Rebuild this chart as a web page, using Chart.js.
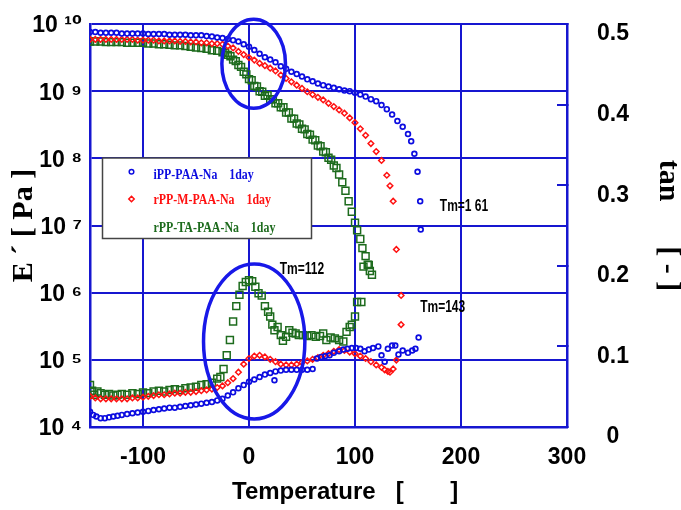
<!DOCTYPE html>
<html><head><meta charset="utf-8">
<script src="https://cdn.jsdelivr.net/npm/chart.js@4.4.0/dist/chart.umd.min.js"></script>
<style>html,body{margin:0;padding:0;background:#fff;}canvas{display:block;}</style>
</head><body>
<canvas id="c" width="681" height="510"></canvas>
<script>
// ---------- data ----------
const seriesLabels = ['iPP-PAA-Na    1day', 'rPP-M-PAA-Na    1day', 'rPP-TA-PAA-Na    1day'];
const xTicks = [-100, 0, 100, 200, 300];
const eTicks = [1e4, 1e5, 1e6, 1e7, 1e8, 1e9, 1e10];
const tanTicks = [0, 0.1, 0.2, 0.3, 0.4, 0.5];

// storage modulus E' [Pa]
const iPP_E_T = [-150,-145,-140,-135,-130,-125,-120,-115,-110,-105,-100,-95,-90,-85,-80,-75,-70,-65,-60,-55,-50,-45,-40,-35,-30,-25,-20,-15,-10,-5,0,5,10,15,20,25,30,35,40,45,50,55,60,65,70,75,80,85,90,95,100,105,110,115,120,125,130,135,140,145,150,153,156,159,161.5,162];
const iPP_E = [7.6e9,7.6e9,7.4e9,7.4e9,7.4e9,7.4e9,7.2e9,7.2e9,7.2e9,7.2e9,7.2e9,7.1e9,7.1e9,7.1e9,7.1e9,6.9e9,6.9e9,6.9e9,6.9e9,6.8e9,6.8e9,6.8e9,6.6e9,6.5e9,6.3e9,6.2e9,6.0e9,5.75e9,5.5e9,5.0e9,4.6e9,4.1e9,3.6e9,3.2e9,2.95e9,2.7e9,2.35e9,2.15e9,1.95e9,1.8e9,1.65e9,1.5e9,1.4e9,1.3e9,1.23e9,1.17e9,1.12e9,1.07e9,1.02e9,1.0e9,9.5e8,8.9e8,8.3e8,7.6e8,7.1e8,6.2e8,5.4e8,4.5e8,3.6e8,2.95e8,2.3e8,1.8e8,1.17e8,6.3e7,2.3e7,8.7e6];

const rPPM_E_T = [-150,-145,-140,-135,-130,-125,-120,-115,-110,-105,-100,-95,-90,-85,-80,-75,-70,-65,-60,-55,-50,-45,-40,-35,-30,-25,-20,-15,-10,-5,0,5,10,15,20,25,30,35,40,45,50,55,60,65,70,75,80,85,90,95,100,105,110,115,120,125,130,133,136,139,143.5];
const rPPM_E = [5.9e9,5.9e9,5.9e9,5.9e9,5.9e9,5.9e9,5.9e9,5.9e9,5.9e9,5.75e9,5.75e9,5.75e9,5.75e9,5.6e9,5.6e9,5.6e9,5.6e9,5.5e9,5.5e9,5.4e9,5.4e9,5.25e9,5.25e9,5.1e9,5.1e9,5.0e9,4.7e9,4.4e9,3.9e9,3.5e9,3.16e9,2.9e9,2.6e9,2.4e9,2.2e9,2.0e9,1.74e9,1.55e9,1.38e9,1.23e9,1.1e9,9.8e8,8.9e8,8.1e8,7.4e8,6.6e8,5.9e8,5.25e8,4.7e8,4.0e8,3.4e8,2.75e8,2.2e8,1.66e8,1.26e8,9.3e7,5.6e7,3.9e7,2.3e7,4.4e6,9.1e5];

const rPPTA_E_T = [-150,-145,-140,-135,-130,-125,-120,-115,-110,-105,-100,-95,-90,-85,-80,-75,-70,-65,-60,-55,-50,-45,-40,-35,-30,-25,-20,-15,-10,-5,0,5,10,15,20,25,30,35,40,45,50,55,60,65,70,75,80,85,88,91,94,97,100,102,105,107,110,112,114];
const rPPTA_E = [5.5e9,5.5e9,5.5e9,5.37e9,5.37e9,5.37e9,5.37e9,5.25e9,5.25e9,5.25e9,5.25e9,5.13e9,5.13e9,5.0e9,5.0e9,4.9e9,4.8e9,4.8e9,4.7e9,4.57e9,4.47e9,4.37e9,4.27e9,4.07e9,3.98e9,3.8e9,3.47e9,2.95e9,2.45e9,1.95e9,1.51e9,1.2e9,1.0e9,8.5e8,7.6e8,6.6e8,5.75e8,4.8e8,3.9e8,3.3e8,2.75e8,2.3e8,1.9e8,1.55e8,1.26e8,1.02e8,7.8e7,5.75e7,4.4e7,3.3e7,2.3e7,1.6e7,1.1e7,8.5e6,6.3e6,4.6e6,3.5e6,2.6e6,2.1e6];
// second (upper) track of rPP-TA squares in the drop region
const rPPTA_E2_T = [-22.5,-17.5,-12.5,-7.5,-2.5,2.5,7.5,12.5,17.5,22.5,27.5,32.5,37.5,42.5,47.5,52.5,57.5,62.5,67.5,72.5,77.5,82.5];
const rPPTA_E2 = [3.7e9,3.3e9,2.8e9,2.3e9,1.78e9,1.45e9,1.17e9,9.8e8,8.7e8,7.6e8,6.6e8,5.75e8,4.8e8,3.9e8,3.2e8,2.7e8,2.24e8,1.86e8,1.51e8,1.23e8,9.5e7,7.2e7];

// loss tangent tan delta [-]
const iPP_tan_T = [-150,-147,-144,-140,-136,-132,-128,-124,-120,-115,-110,-105,-100,-95,-90,-85,-80,-75,-70,-65,-60,-55,-50,-45,-40,-35,-30,-25,-20,-15,-10,-5,0,5,10,15,20,24,25,30,35,40,45,50,55,60,64,68,72,76,80,85,89,93,97,101,105,109,113,117,122,125,128,131,135,138,141,145,150,154,157,160];
const iPP_tan = [0.019,0.015,0.013,0.011,0.011,0.012,0.013,0.014,0.015,0.016,0.017,0.018,0.019,0.020,0.021,0.022,0.023,0.024,0.024,0.025,0.026,0.027,0.028,0.029,0.030,0.031,0.033,0.035,0.039,0.043,0.048,0.052,0.056,0.059,0.062,0.065,0.067,0.058,0.069,0.070,0.071,0.071,0.071,0.071,0.071,0.072,0.085,0.087,0.088,0.089,0.092,0.094,0.096,0.097,0.098,0.098,0.097,0.094,0.096,0.098,0.100,0.089,0.081,0.097,0.101,0.101,0.090,0.095,0.092,0.095,0.097,0.111];

const rPPM_tan_T = [-150,-145,-140,-135,-130,-125,-120,-115,-110,-105,-100,-95,-90,-85,-80,-75,-70,-65,-60,-55,-50,-45,-40,-35,-30,-25,-20,-15,-10,-5,0,5,10,15,20,25,30,35,40,45,50,55,60,65,70,75,80,85,90,95,100,105,110,115,120,125,128,131,133,136,139,143.5];
const rPPM_tan = [0.038,0.036,0.035,0.035,0.035,0.035,0.035,0.035,0.036,0.036,0.037,0.038,0.039,0.040,0.040,0.041,0.042,0.042,0.043,0.043,0.044,0.045,0.046,0.047,0.049,0.051,0.055,0.060,0.068,0.078,0.085,0.088,0.089,0.087,0.084,0.081,0.078,0.077,0.077,0.078,0.080,0.082,0.084,0.086,0.089,0.091,0.094,0.096,0.095,0.093,0.091,0.088,0.085,0.081,0.077,0.074,0.071,0.069,0.068,0.072,0.083,0.127];

const rPPTA_tan_T = [-150,-148,-146,-143,-140,-136,-132,-128,-124,-120,-115,-110,-105,-100,-95,-90,-85,-80,-75,-70,-65,-60,-55,-50,-45,-40,-35,-30,-27,-24,-21,-18,-15,-12,-9,-6,-3,0,3,6,9,12,15,18,20,22,24,27,30,32,35,38,41,44,47,51,55,59,63,67,70,73,77,81,85,89,92,95,97,100,102,106,108,113,116];
const rPPTA_tan = [0.052,0.045,0.040,0.044,0.042,0.040,0.041,0.039,0.040,0.041,0.040,0.042,0.041,0.043,0.042,0.044,0.045,0.044,0.046,0.047,0.046,0.048,0.049,0.050,0.052,0.053,0.055,0.060,0.062,0.072,0.089,0.108,0.131,0.150,0.164,0.175,0.180,0.182,0.181,0.174,0.166,0.163,0.150,0.143,0.137,0.127,0.120,0.124,0.114,0.107,0.112,0.120,0.117,0.116,0.114,0.114,0.113,0.114,0.112,0.113,0.116,0.108,0.111,0.110,0.108,0.106,0.118,0.124,0.127,0.137,0.155,0.155,0.199,0.201,0.189];

// annotations (data coordinates: x = temperature, t = tan delta axis)
const annoTexts = [
  {text: 'Tm=1 61', x: 180, t: 0.273},
  {text: 'Tm=112', x: 29, t: 0.195},
  {text: 'Tm=143', x: 161.5, t: 0.1485}
];
const ellipses = [
  {x: 4.4, t: 0.4507, rx: 30.0, rt: 0.0552},
  {x: 4.9, t: 0.1061, rx: 47.8, rt: 0.0962}
];

// ---------- styling ----------
const BLUE = '#0c0ce0', RED = '#ff1010', GREEN = '#1d6b1d', GRID = '#1616d0', ELL = '#1818e8';
const SANS = '"Liberation Sans", Arial, "DejaVu Sans", sans-serif';
const SERIF = '"Liberation Serif", "Times New Roman", serif';
const SUP = {'0':'⁰','1':'¹','2':'²','3':'³','4':'⁴','5':'⁵','6':'⁶','7':'⁷','8':'⁸','9':'⁹'};
const sup = n => String(n).split('').map(c => SUP[c]).join('');
const pts = (xs, ys) => xs.map((v, i) => ({x: v, y: ys[i]}));
const noPad = s => { s.paddingTop = 0; s.paddingBottom = 0; s.paddingLeft = 0; s.paddingRight = 0; };

const styles = [
  {pointStyle: 'circle', pointRadius: 2.4, pointBorderWidth: 1.7, color: BLUE},
  {pointStyle: 'rectRot', pointRadius: 2.8, pointBorderWidth: 1.5, color: RED},
  {pointStyle: 'rect', pointRadius: 4.9, pointBorderWidth: 1.5, color: GREEN}
];
function ds(i, data, axis) {
  const s = styles[i];
  return {label: seriesLabels[i], data: data, yAxisID: axis, showLine: false,
    pointStyle: s.pointStyle, pointRadius: s.pointRadius, pointBorderWidth: s.pointBorderWidth,
    pointBorderColor: s.color, pointBackgroundColor: 'rgba(0,0,0,0)', borderColor: s.color};
}

const overlay = {
  id: 'overlay',
  afterDatasetsDraw(chart) {
    const {ctx, chartArea, scales: {x, yT}} = chart;
    ctx.save();
    // ellipses
    ctx.strokeStyle = ELL; ctx.lineWidth = 3.5;
    ellipses.forEach(e => {
      const cx = x.getPixelForValue(e.x), cy = yT.getPixelForValue(e.t);
      const rx = x.getPixelForValue(e.x + e.rx) - cx;
      const ry = cy - yT.getPixelForValue(e.t + e.rt);
      ctx.beginPath(); ctx.ellipse(cx, cy, rx, ry, 0, 0, Math.PI * 2); ctx.stroke();
    });
    // annotation texts
    ctx.fillStyle = '#000'; ctx.font = 'bold 16px ' + SANS; ctx.textBaseline = 'middle'; ctx.textAlign = 'left';
    annoTexts.forEach(a => {
      ctx.save();
      ctx.translate(x.getPixelForValue(a.x), yT.getPixelForValue(a.t));
      ctx.scale(0.75, 1);
      ctx.fillText(a.text, 0, 0);
      ctx.restore();
    });
    // legend box
    const bl = chartArea.left + 12.5, bt = chartArea.top + 134, bw = 209, bh = 80.5;
    ctx.fillStyle = '#fff'; ctx.fillRect(bl, bt, bw, bh);
    ctx.strokeStyle = '#444'; ctx.lineWidth = 1.5; ctx.strokeRect(bl, bt, bw, bh);
    const rows = [{my: 13.7, ty: 17}, {my: 41, ty: 42}, {my: null, ty: 70}];
    chart.data.datasets.slice(0, 3).forEach((d, i) => {
      const s = styles[i], r = rows[i];
      if (r.my !== null) {
        const mx = bl + 29, my = bt + r.my;
        ctx.strokeStyle = s.color; ctx.lineWidth = 1.5;
        ctx.beginPath();
        if (s.pointStyle === 'circle') ctx.arc(mx, my, 2.3, 0, Math.PI * 2);
        else { const q = 2.7; ctx.moveTo(mx, my - q); ctx.lineTo(mx + q, my); ctx.lineTo(mx, my + q); ctx.lineTo(mx - q, my); ctx.closePath(); }
        ctx.stroke();
      }
      ctx.save();
      ctx.fillStyle = s.color; ctx.font = 'bold 14px ' + SERIF; ctx.textBaseline = 'middle';
      ctx.translate(bl + 51, bt + r.ty); ctx.scale(0.85, 1);
      ctx.fillText(d.label, 0, 0);
      ctx.restore();
    });
    ctx.restore();
  }
};

new Chart(document.getElementById('c'), {
  type: 'scatter',
  data: {
    datasets: [
      ds(0, pts(iPP_E_T, iPP_E), 'yE'),
      ds(1, pts(rPPM_E_T, rPPM_E), 'yE'),
      ds(2, pts(rPPTA_E_T, rPPTA_E).concat(pts(rPPTA_E2_T, rPPTA_E2)), 'yE'),
      ds(0, pts(iPP_tan_T, iPP_tan), 'yT'),
      ds(1, pts(rPPM_tan_T, rPPM_tan), 'yT'),
      ds(2, pts(rPPTA_tan_T, rPPTA_tan), 'yT')
    ]
  },
  options: {
    responsive: false, animation: false, devicePixelRatio: 1,
    layout: {padding: {top: 24, left: 0, right: 0, bottom: 0}},
    plugins: {legend: {display: false}, tooltip: {enabled: false}},
    scales: {
      x: {
        type: 'linear', position: 'bottom', min: -150, max: 300,
        afterBuildTicks: s => { s.ticks = xTicks.map(v => ({value: v})); },
        afterFit: s => { s.height = 83; noPad(s); },
        grid: {color: GRID, lineWidth: 2, drawTicks: false},
        border: {color: GRID, width: 2.5},
        ticks: {color: '#000', font: {family: SANS, weight: 'bold', size: 23}, padding: 17, maxRotation: 0, autoSkip: false},
        title: {display: true, text: '     Temperature   [       ]', color: '#000', font: {family: SANS, weight: 'bold', size: 24}, padding: {top: 0, bottom: 3}}
      },
      yE: {
        type: 'logarithmic', position: 'left', min: 1e4, max: 1e10,
        afterBuildTicks: s => { s.ticks = eTicks.map(v => ({value: v})); },
        afterFit: s => { s.width = 90; noPad(s); },
        grid: {color: GRID, lineWidth: 2, drawTicks: false},
        border: {color: GRID, width: 2.5},
        ticks: {callback: v => '10 ' + sup(Math.round(Math.log10(v))), color: '#000', font: {family: SANS, weight: 'bold', size: 23}, padding: 8, labelOffset: 2, autoSkip: false},
        title: {display: true, text: 'E ´ [ Pa ]', color: '#000', font: {family: SERIF, weight: 'bold', size: 30}, padding: {top: 6, bottom: 0}}
      },
      yT: {
        type: 'linear', position: 'right', min: 0, max: 0.5,
        afterBuildTicks: s => { s.ticks = tanTicks.map(v => ({value: v})); },
        afterFit: s => { s.width = 114; noPad(s); },
        grid: {drawOnChartArea: false, color: GRID, lineWidth: 2, tickLength: -10},
        border: {color: GRID, width: 2.5},
        ticks: {callback: v => v === 0 ? '0' : v.toFixed(1), color: '#000', font: {family: SANS, weight: 'bold', size: 23}, crossAlign: 'center', padding: 40, labelOffset: 10, autoSkip: false},
        title: {display: true, text: 'tan      [ - ]', color: '#000', font: {family: SERIF, weight: 'bold', size: 30, lineHeight: 0.9}, padding: {top: 0, bottom: 0}}
      }
    }
  },
  plugins: [overlay]
});
</script>
</body></html>
